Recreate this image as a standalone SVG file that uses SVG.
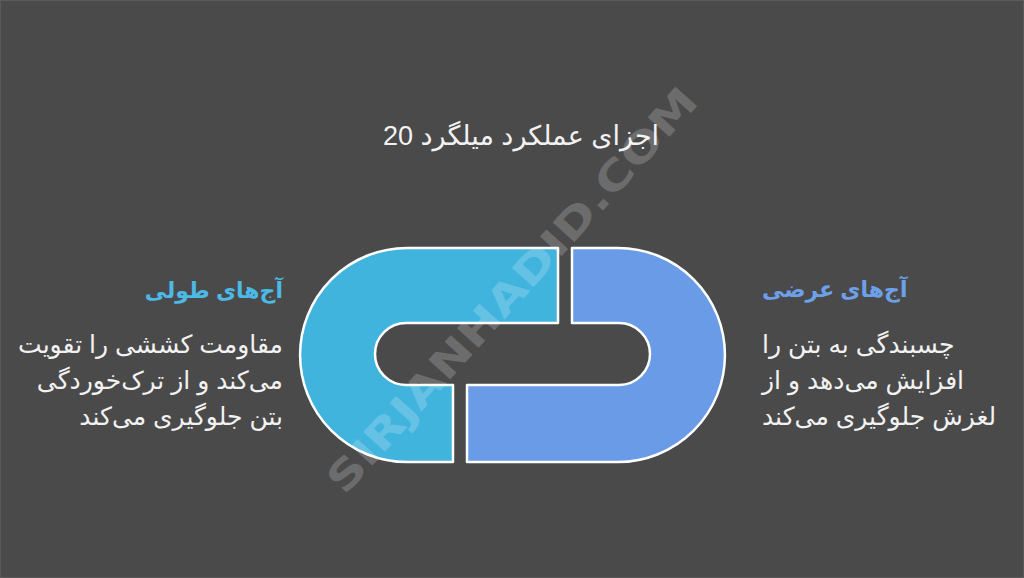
<svg xmlns="http://www.w3.org/2000/svg" width="1024" height="578" viewBox="0 0 1024 578">
<style>
.ar{font-family:"Liberation Sans","DejaVu Sans",sans-serif;}
.title{font-size:27px;fill:#f2f2f2;}
.head{font-size:22px;font-weight:bold;}
.body{font-size:25px;fill:#f2f2f2;}
.link{stroke:#ffffff;stroke-width:2.5;stroke-linejoin:round;}
</style>
<rect x="0" y="0" width="1024" height="578" fill="#4a4a4a"/>
<rect x="0.5" y="0.5" width="1023" height="577" fill="none" stroke="#5a5a5a" stroke-width="1"/>

<g id="title">
<text class="ar title" x="521" y="145" text-anchor="middle" direction="rtl">اجزای عملکرد میلگرد 20</text>
</g>

<g id="connectors"></g>

<g id="link-left">
<path class="link" fill="#41b4de" d="M558,248 L407,248 A107,107 0 0 0 407,462 L453,462 L453,385 L406,385 A31,31 0 0 1 406,323 L558,323 Z"/>
</g>
<g id="link-right">
<path class="link" fill="#6a9be6" d="M572,248 L618,248 A107,107 0 0 1 618,462 L467,462 L467,385 L619,385 A31,31 0 0 0 619,323 L572,323 Z"/>
</g>

<g id="left-text">
<text class="ar head" x="283" y="298" text-anchor="start" direction="rtl" fill="#4cb9e6">آج‌های طولی</text>
<text class="ar body" x="283" y="353" text-anchor="start" direction="rtl">مقاومت کششی را تقویت</text>
<text class="ar body" x="283" y="389" text-anchor="start" direction="rtl">می‌کند و از ترک‌خوردگی</text>
<text class="ar body" x="283" y="425" text-anchor="start" direction="rtl">بتن جلوگیری می‌کند</text>
</g>

<g id="right-text">
<text class="ar head" x="762" y="297" text-anchor="end" direction="rtl" fill="#6ea0ea">آج‌های عرضی</text>
<text class="ar body" x="762" y="353" text-anchor="end" direction="rtl">چسبندگی به بتن را</text>
<text class="ar body" x="762" y="389" text-anchor="end" direction="rtl">افزایش می‌دهد و از</text>
<text class="ar body" x="762" y="425" text-anchor="end" direction="rtl">لغزش جلوگیری می‌کند</text>
</g>

<g id="watermark" opacity="0.19">
<text x="0" y="0" transform="translate(512,290) rotate(-47.9)" text-anchor="middle" dominant-baseline="central" font-family="'DejaVu Sans',sans-serif" font-weight="bold" font-size="40" fill="#ffffff" textLength="530" lengthAdjust="spacingAndGlyphs">SIRJANHADID.COM</text>
</g>
</svg>
